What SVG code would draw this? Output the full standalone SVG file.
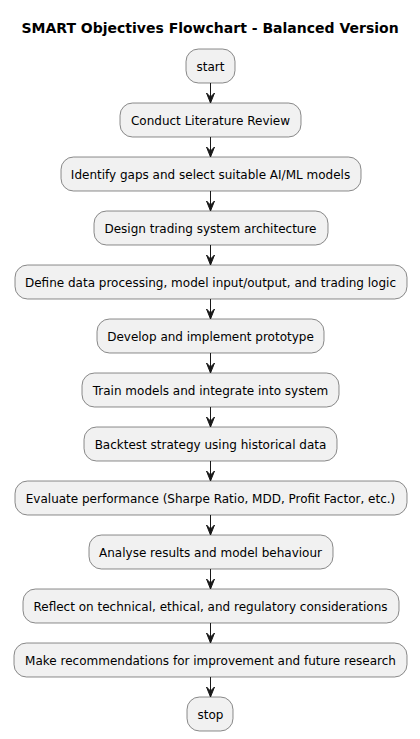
<svg xmlns="http://www.w3.org/2000/svg" width="420" height="739" viewBox="0 0 420 739">
<style>
.n rect{fill:#F1F1F1;stroke:#181818;stroke-width:0.5}
.n text{font-family:"DejaVu Sans",sans-serif;font-size:12px;fill:#000;text-anchor:middle}
.t{font-family:"DejaVu Sans",sans-serif;font-size:14px;font-weight:bold;fill:#000;text-anchor:middle}
.e line{stroke:#181818;stroke-width:1}
.e polygon{fill:#181818;stroke:#181818;stroke-width:1}
</style>
<rect width="420" height="739" fill="#FFFFFF"/>
<text class="t" x="210" y="33">SMART Objectives Flowchart - Balanced Version</text>
<g class="e" id="connectors">
<line x1="210.5" y1="83" x2="210.5" y2="102"/><polygon points="206.5,93 210.5,103 214.5,93 210.5,97"/>
<line x1="210.5" y1="137" x2="210.5" y2="156"/><polygon points="206.5,147 210.5,157 214.5,147 210.5,151"/>
<line x1="210.5" y1="191" x2="210.5" y2="210"/><polygon points="206.5,201 210.5,211 214.5,201 210.5,205"/>
<line x1="210.5" y1="245" x2="210.5" y2="264"/><polygon points="206.5,255 210.5,265 214.5,255 210.5,259"/>
<line x1="210.5" y1="299" x2="210.5" y2="318"/><polygon points="206.5,309 210.5,319 214.5,309 210.5,313"/>
<line x1="210.5" y1="353" x2="210.5" y2="372"/><polygon points="206.5,363 210.5,373 214.5,363 210.5,367"/>
<line x1="210.5" y1="407" x2="210.5" y2="426"/><polygon points="206.5,417 210.5,427 214.5,417 210.5,421"/>
<line x1="210.5" y1="461" x2="210.5" y2="480"/><polygon points="206.5,471 210.5,481 214.5,471 210.5,475"/>
<line x1="210.5" y1="515" x2="210.5" y2="534"/><polygon points="206.5,525 210.5,535 214.5,525 210.5,529"/>
<line x1="210.5" y1="569" x2="210.5" y2="588"/><polygon points="206.5,579 210.5,589 214.5,579 210.5,583"/>
<line x1="210.5" y1="623" x2="210.5" y2="642"/><polygon points="206.5,633 210.5,643 214.5,633 210.5,637"/>
<line x1="210.5" y1="677" x2="210.5" y2="696"/><polygon points="206.5,687 210.5,697 214.5,687 210.5,691"/>
</g>
<g class="n" id="start"><rect x="186" y="49" width="49" height="34" rx="12.5"/><text x="210.5" y="70.5">start</text></g>
<g class="n" id="n1"><rect x="120" y="103" width="181" height="34" rx="12.5"/><text x="210.5" y="124.5">Conduct Literature Review</text></g>
<g class="n" id="n2"><rect x="61" y="157" width="300" height="34" rx="12.5"/><text x="210.5" y="178.5">Identify gaps and select suitable AI/ML models</text></g>
<g class="n" id="n3"><rect x="94" y="211" width="234" height="34" rx="12.5"/><text x="210.5" y="232.5">Design trading system architecture</text></g>
<g class="n" id="n4"><rect x="15" y="265" width="392" height="34" rx="12.5"/><text x="210.5" y="286.5">Define data processing, model input/output, and trading logic</text></g>
<g class="n" id="n5"><rect x="97" y="319" width="227" height="34" rx="12.5"/><text x="210.5" y="340.5">Develop and implement prototype</text></g>
<g class="n" id="n6"><rect x="82" y="373" width="257" height="34" rx="12.5"/><text x="210.5" y="394.5">Train models and integrate into system</text></g>
<g class="n" id="n7"><rect x="84" y="427" width="253" height="34" rx="12.5"/><text x="210.5" y="448.5">Backtest strategy using historical data</text></g>
<g class="n" id="n8"><rect x="15" y="481" width="392" height="34" rx="12.5"/><text x="210.5" y="502.5">Evaluate performance (Sharpe Ratio, MDD, Profit Factor, etc.)</text></g>
<g class="n" id="n9"><rect x="89" y="535" width="244" height="34" rx="12.5"/><text x="210.5" y="556.5">Analyse results and model behaviour</text></g>
<g class="n" id="n10"><rect x="23" y="589" width="376" height="34" rx="12.5"/><text x="210.5" y="610.5">Reflect on technical, ethical, and regulatory considerations</text></g>
<g class="n" id="n11"><rect x="14" y="643" width="393" height="34" rx="12.5"/><text x="210.5" y="664.5">Make recommendations for improvement and future research</text></g>
<g class="n" id="stop"><rect x="187" y="697" width="46" height="34" rx="12.5"/><text x="210.5" y="718.5">stop</text></g>
</svg>
